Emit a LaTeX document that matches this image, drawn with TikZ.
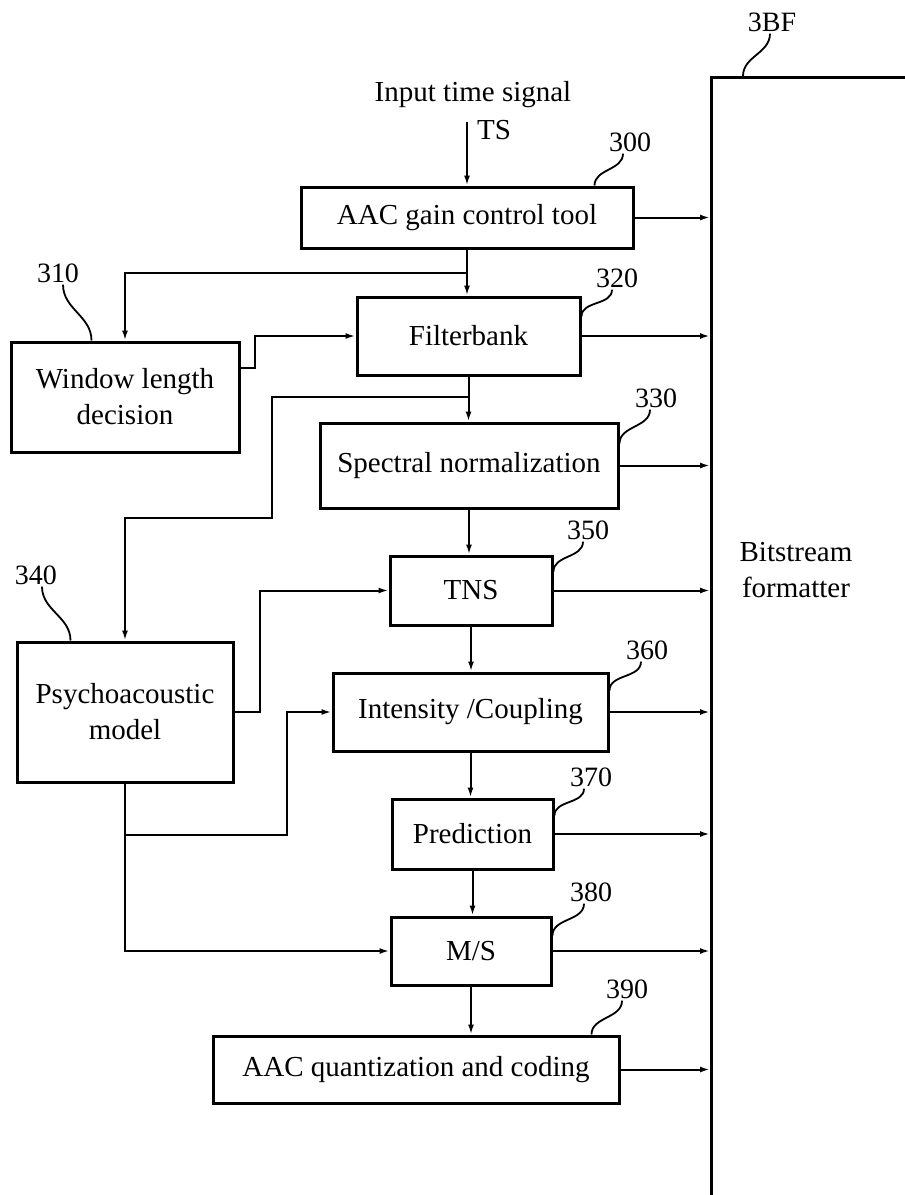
\documentclass[tikz,border=0pt]{standalone}
\usepackage{fontspec}
\setmainfont{Liberation Serif}
\usetikzlibrary{arrows.meta}
\begin{document}
\begin{tikzpicture}[x=1pt,y=-1pt,
  blk/.style={draw, line width=3pt, inner sep=0pt, align=center,
              font=\fontsize{29}{36}\selectfont},
  num/.style={inner sep=2pt, font=\fontsize{28}{30}\selectfont},
  txt/.style={inner sep=0pt, align=center, font=\fontsize{29}{36}\selectfont},
  wire/.style={line width=2pt},
  arr/.style={wire, -{Latex[length=10pt,width=6pt]}},
  lead/.style={line width=1.8pt},
]
\useasboundingbox (0,0) rectangle (905,1195);

% bitstream formatter (runs off the page to the right and bottom)
\node[draw, line width=3pt, inner sep=0pt, anchor=north west,
      minimum width=400pt, minimum height=1300pt] (bf) at (710,76) {};
\node[txt] (bftext) at (796,570) {Bitstream\\formatter};

% processing blocks
\node[blk, minimum width=332pt, minimum height=61pt] (b300) at (467,217.5) {AAC gain control tool};
\node[blk, minimum width=223pt, minimum height=78pt] (b320) at (468.5,336) {Filterbank};
\node[blk, minimum width=228pt, minimum height=110pt] (b310) at (125,397) {Window length\\decision};
\node[blk, minimum width=298pt, minimum height=85pt] (b330) at (469,465.5) {Spectral normalization};
\node[blk, minimum width=216pt, minimum height=140pt] (b340) at (125,712) {Psychoacoustic\\model};
\node[blk, minimum width=162pt, minimum height=69pt] (b350) at (471,590.5) {TNS};
\node[blk, minimum width=275pt, minimum height=78pt] (b360) at (470.5,712) {Intensity /Coupling};
\node[blk, minimum width=161pt, minimum height=70pt] (b370) at (472.5,834) {Prediction};
\node[blk, minimum width=160pt, minimum height=68pt] (b380) at (471,951) {M/S};
\node[blk, minimum width=406pt, minimum height=67pt] (b390) at (416,1069.5) {AAC quantization and coding};

% input
\node[txt] (intext) at (473,95) {Input time signal};
\node[txt] (ts) at (494,130) {TS};
\coordinate (tsin) at (467,122);
\draw[arr] (tsin) -- (b300.north);

% main chain
\draw[arr] (b300.south) -- (b300.south |- b320.north);
\draw[arr] (b320.south) -- (b320.south |- b330.north);
\draw[arr] (b330.south) -- (b330.south |- b350.north);
\draw[arr] (b350.south) -- (b350.south |- b360.north);
\draw[arr] (b360.south) -- (b360.south |- b370.north);
\draw[arr] (b370.south) -- (b370.south |- b380.north);
\draw[arr] (b380.south) -- (b380.south |- b390.north);

% outputs to the bitstream formatter
\foreach \b in {b300,b320,b330,b350,b360,b370,b380,b390}
  \draw[arr] (\b.east) -- (\b.east -| bf.west);

% window length decision
\coordinate (j310) at (b300.south |- 0,273);
\draw[arr] (j310) -| (b310.north);
\draw[arr] (b310.east |- 0,368) -- (255,368) |- (b320.west);

% psychoacoustic model
\coordinate (j340) at (b320.south |- 0,397);
\draw[arr] (j340) -- (272,397) -- (272,518) -| (b340.north);
\draw[arr] (b340.east) -- (260,712) |- (b350.west);
\draw[arr] (b340.south) |- (b380.west);
\coordinate (j360) at (b340.south |- 0,835);
\draw[arr] (j360) -- (287,835) |- (b360.west);

% reference numerals
\node[num] (l3BF) at (772,22) {3BF};
\node[num] (l300) at (630,142) {300};
\node[num] (l310) at (58,273) {310};
\node[num] (l320) at (617,278) {320};
\node[num] (l330) at (656,398) {330};
\node[num] (l340) at (36,575) {340};
\node[num] (l350) at (588,530) {350};
\node[num] (l360) at (647,650) {360};
\node[num] (l370) at (591,777) {370};
\node[num] (l380) at (591,892) {380};
\node[num] (l390) at (627,989) {390};

\draw[lead] ([xshift=-2pt]l3BF.south) to[out=-90,in=90] ([xshift=33pt]bf.north west);
\draw[lead] ([xshift=-7pt]l300.south) to[out=-90,in=90] ([xshift=-40pt]b300.north east);
\draw[lead] ([xshift=5pt]l310.south) to[out=-90,in=90] ([xshift=82pt]b310.north west);
\draw[lead] ([xshift=-5pt]l320.south) to[out=-90,in=90] ([yshift=-21pt]b320.north east);
\draw[lead] ([xshift=-6pt]l330.south) to[out=-90,in=90] ([yshift=-22pt]b330.north east);
\draw[lead] ([xshift=6pt]l340.south) to[out=-90,in=90] ([xshift=55pt]b340.north west);
\draw[lead] ([xshift=-5pt]l350.south) to[out=-90,in=90] ([yshift=-17pt]b350.north east);
\draw[lead] ([xshift=-6pt]l360.south) to[out=-90,in=90] ([yshift=-19pt]b360.north east);
\draw[lead] ([xshift=-7pt]l370.south) to[out=-90,in=90] ([yshift=-18pt]b370.north east);
\draw[lead] ([xshift=-7pt]l380.south) to[out=-90,in=90] ([yshift=-20pt]b380.north east);
\draw[lead] ([xshift=-5pt]l390.south) to[out=-90,in=90] ([xshift=-29pt]b390.north east);
\end{tikzpicture}
\end{document}
